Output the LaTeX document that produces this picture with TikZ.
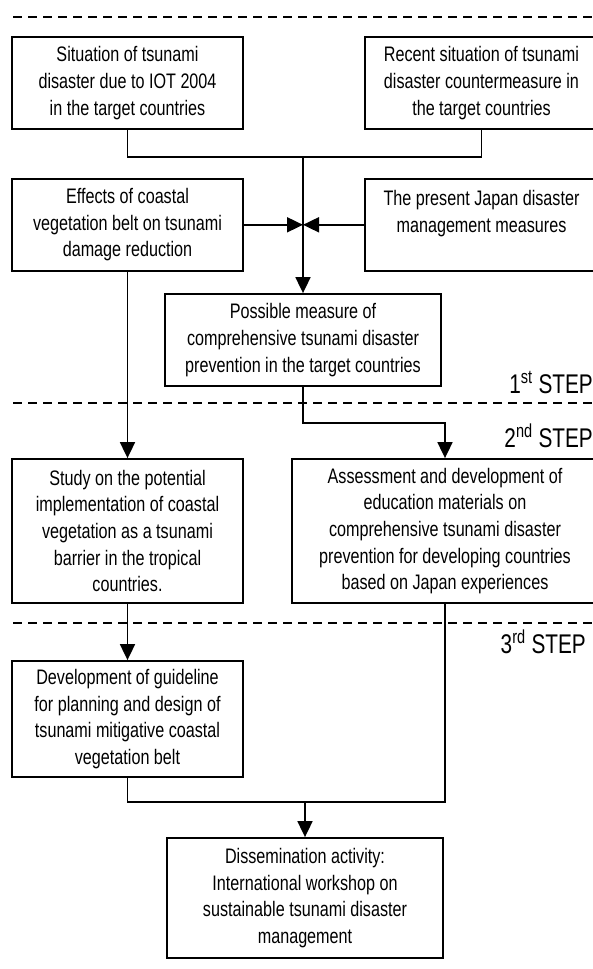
\documentclass[tikz,border=0pt]{standalone}
\usepackage{fontspec}
\setmainfont{Liberation Sans}[FakeStretch=0.77]
\usepackage{tikz}
\usetikzlibrary{arrows.meta,positioning}
\tikzstyle{box} = [rectangle, draw=black, line width=1.8pt, align=center, inner sep=0pt, minimum height=92pt, font=\fontsize{21}{26.7}\selectfont]
\tikzstyle{link} = [line width=1.8pt]
\tikzstyle{arrow} = [line width=1.8pt, -{Triangle[length=16pt,width=15pt]}]
\tikzstyle{divider} = [line width=2pt, dash pattern=on 9pt off 6pt]
\tikzstyle{steplabel} = [anchor=base east, inner sep=0pt, font=\fontsize{27}{30}\selectfont]

\begin{document}
\begin{tikzpicture}[x=1pt, y=-1pt]
\useasboundingbox (0,0) rectangle (593,969);

% Step dividers
\draw[divider] (13,17) -- (593,17);
\draw[divider] (13,403) -- (593,403);
\draw[divider] (13,623) -- (593,623);
\node (step1) [steplabel] at (593,393) {1\textsuperscript{st} STEP};
\node (step2) [steplabel] at (593,447) {2\textsuperscript{nd} STEP};
\node (step3) [steplabel] at (586,653) {3\textsuperscript{rd} STEP};

% 1st step
\node (situation) [box, minimum width=231pt] at (127.5,83) {Situation of tsunami\\disaster due to IOT 2004\\in the target countries};
\node (recent) [box, minimum width=233pt] at (481.5,83) {Recent situation of tsunami\\disaster countermeasure in\\the target countries};
\node (effects) [box, minimum width=231pt, below=48pt of situation] {Effects of coastal\\vegetation belt on tsunami\\damage reduction};
\node (japan) [box, minimum width=233pt, below=48pt of recent] {The present Japan disaster\\management measures\\~};
\node (possible) [box, minimum width=276pt] at (303,340) {Possible measure of\\comprehensive tsunami disaster\\prevention in the target countries};

% 2nd step
\node (study) [box, minimum width=231pt, minimum height=144pt] at (127.5,531) {Study on the potential\\implementation of coastal\\vegetation as a tsunami\\barrier in the tropical\\countries.};
\node (assessment) [box, minimum width=306pt, minimum height=144pt] at (445,531) {Assessment and development of\\education materials on\\comprehensive tsunami disaster\\prevention for developing countries\\based on Japan experiences};

% 3rd step
\node (development) [box, minimum width=231pt, minimum height=116pt] at (127.5,719) {Development of guideline\\for planning and design of\\tsunami mitigative coastal\\vegetation belt};
\node (dissemination) [box, minimum width=276pt, minimum height=120pt] at (305,898) {Dissemination activity:\\International workshop on\\sustainable tsunami disaster\\management};

% Connectors
\coordinate (join1) at (303,157);
\coordinate (meet) at (possible.north |- effects.east);
\coordinate (join2) at (305,802);
\draw[link] (situation.south) |- (join1);
\draw[link] (recent.south) |- (join1);
\draw[arrow] (join1) -- (possible.north);
\draw[arrow] (effects.east) -- (meet);
\draw[arrow] (japan.west) -- (meet);
\draw[arrow] (effects.south) -- (study.north);
\draw[arrow] (possible.south) -- ++(0,36) -| (assessment.north);
\draw[arrow] (study.south) -- (development.north);
\draw[link] (development.south) |- (join2);
\draw[link] (assessment.south) |- (join2);
\draw[arrow] (join2) -- (dissemination.north);
\end{tikzpicture}
\end{document}
